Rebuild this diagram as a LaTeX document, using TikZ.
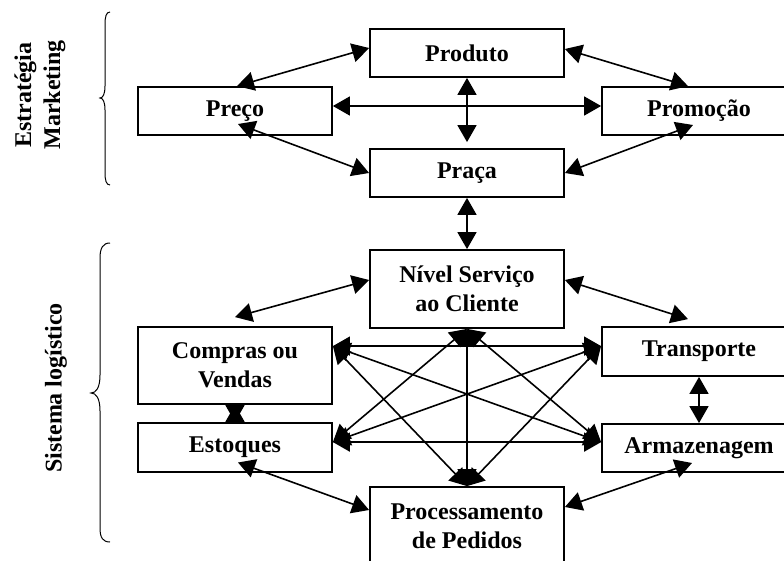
\documentclass[tikz,border=0pt]{standalone}
\usepackage{fontspec}
\setmainfont{Liberation Serif}
\usetikzlibrary{arrows.meta}
\begin{document}
\begin{tikzpicture}[x=1pt,y=-1pt,
  box/.style={draw, line width=1.8pt, minimum width=194pt, inner sep=0pt,
    align=center, font=\fontsize{24}{29}\selectfont\bfseries},
  link/.style={line width=1.6pt,
    {Triangle[length=17pt,width=19pt]}-{Triangle[length=17pt,width=19pt]}},
  bracket/.style={line width=1pt},
  sidelabel/.style={rotate=90, align=center, inner sep=0pt,
    font=\fontsize{24}{29}\selectfont\bfseries}]
\useasboundingbox (0,0) rectangle (784,561);

% marketing mix
\node[box, minimum height=48pt] (produto)  at (467,53)  {Produto};
\node[box, minimum height=48pt] (preco)    at (235,111) {Preço};
\node[box, minimum height=48pt] (promocao) at (699,111) {Promoção};
\node[box, minimum height=48pt] (praca)    at (467,173) {Praça};

% logistic system
\node[box, minimum height=78pt] (nivel)         at (467,289)   {Nível Serviço\\ao Cliente};
\node[box, minimum height=77pt] (compras)       at (235,365.5) {Compras ou\\Vendas};
\node[box, minimum height=49pt] (transporte)    at (699,351.5) {Transporte};
\node[box, minimum height=49pt] (estoques)      at (235,447.5) {Estoques};
\node[box, minimum height=48pt] (armazenagem)   at (699,448)   {Armazenagem};
\node[box, minimum height=78pt] (processamento) at (467,526)   {Processamento\\de Pedidos};

% side labels
\node[sidelabel] (mkt) at (40,95)  {Estratégia\\Marketing};
\node[sidelabel] (log) at (56,388) {Sistema logístico};

% braces
\draw[bracket] (110,12) .. controls (106,12) and (105,17) .. (105,25) -- (105,86)
  .. controls (105,94) and (103,98) .. (100,98)
  .. controls (103,98) and (105,102) .. (105,110) -- (105,172)
  .. controls (105,180) and (106,185) .. (110,185);
\draw[bracket] (110,243) .. controls (103,243) and (100,248) .. (100,258) -- (100,375)
  .. controls (100,388) and (96,393) .. (91,393)
  .. controls (96,393) and (100,398) .. (100,411) -- (100,528)
  .. controls (100,538) and (103,542) .. (110,542);

% marketing connectors
\draw[link] ([yshift=5pt]produto.west) -- ([xshift=2pt]preco.north);
\draw[link] ([yshift=4pt]produto.east) -- ([xshift=-11pt]promocao.north);
\draw[link] ([yshift=5pt]preco.east) -- ([yshift=5pt]promocao.west);
\draw[link] (produto.south) -- ([yshift=6pt]praca.north);
\draw[link] ([xshift=3pt,yshift=-13pt]preco.center) -- (praca.west);
\draw[link] (praca.east) -- ([xshift=-6pt,yshift=-14pt]promocao.center);
\draw[link] (praca.south) -- (nivel.north);

% outer logistic connectors
\draw[link] ([yshift=9pt]nivel.west) -- ([yshift=9pt]compras.north);
\draw[link] ([yshift=9pt]nivel.east) -- ([xshift=-11pt,yshift=7pt]transporte.north);
\draw[link] (compras.south) -- (estoques.north);
\draw[link] (transporte.south) -- (armazenagem.north);
\draw[link] ([xshift=3pt,yshift=-15pt]estoques.center) -- ([yshift=16pt]processamento.west);
\draw[link] ([xshift=-7pt,yshift=-15pt]armazenagem.center) -- ([yshift=19pt]processamento.east);

% meeting points of the inner web
\coordinate (cR) at ([yshift=-20pt]compras.north east);
\coordinate (eR) at ([yshift=-20pt]estoques.north east);
\coordinate (tL) at ([yshift=-20pt]transporte.north west);
\coordinate (aL) at ([yshift=-19pt]armazenagem.north west);

% inner web
\draw[link] (cR) -- (tL);
\draw[link] (eR) -- (aL);
\draw[link] (cR) -- (aL);
\draw[link] (eR) -- (tL);
\draw[link] (cR) -- (processamento.north);
\draw[link] (eR) -- (nivel.south);
\draw[link] (nivel.south) -- (aL);
\draw[link] (tL) -- (processamento.north);
\draw[link] (nivel.south) -- (processamento.north);
\end{tikzpicture}
\end{document}
